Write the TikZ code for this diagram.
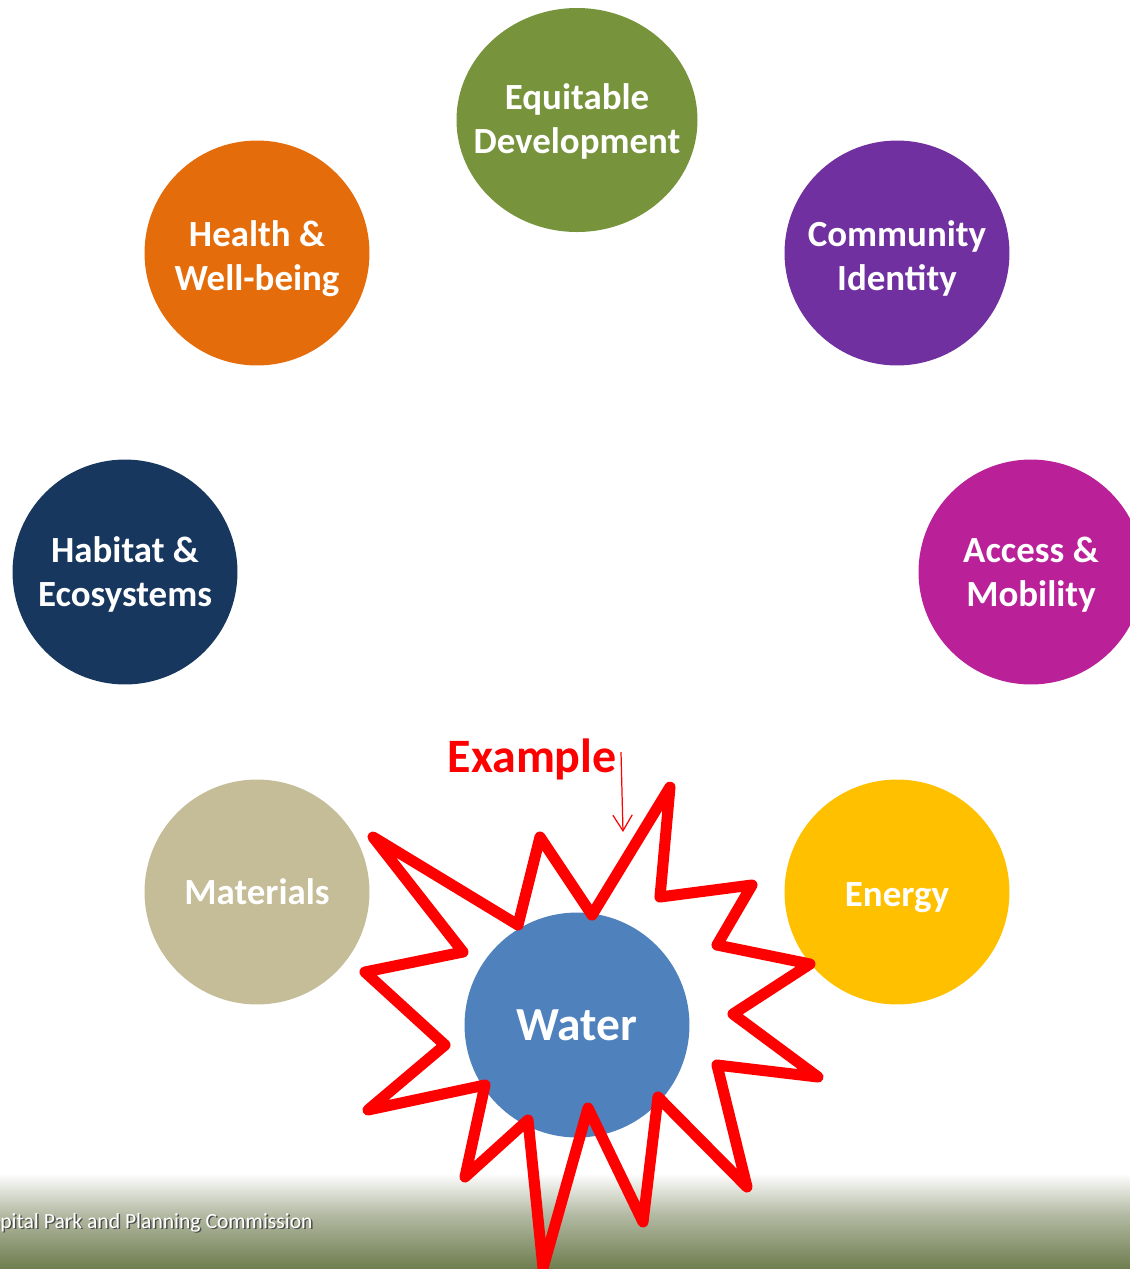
\documentclass[tikz,border=0pt]{standalone}
\usepackage{fontspec}
\setmainfont{Carlito}
\usetikzlibrary{arrows.meta}
\definecolor{equigreen}{HTML}{77933C}
\definecolor{healthorange}{HTML}{E46C0A}
\definecolor{commpurple}{HTML}{7030A0}
\definecolor{habitatblue}{HTML}{17375E}
\definecolor{accessmagenta}{HTML}{BA2198}
\definecolor{materialtan}{HTML}{C4BD97}
\definecolor{energyyellow}{HTML}{FFC000}
\definecolor{waterblue}{HTML}{4F81BD}
\definecolor{footolive}{HTML}{6E7D4E}
\definecolor{footmid}{HTML}{B2B9A2}
\newcommand\lowr[1]{\raisebox{-3.2pt}[\height][\depth]{#1}}
\tikzset{theme/.style={circle,minimum size=4.5cm,inner sep=0pt,text=white,align=center,
                       font=\bfseries\fontsize{21}{25.3}\selectfont},
         burst/.style={draw=red,line width=6.3pt,line join=round},
        }

\begin{document}
\begin{tikzpicture}[x=0.02cm,y=-0.02cm]
        \useasboundingbox(0,0)rectangle(1130,1269);
        % footer band
        \shade[top color=white,bottom color=footmid](0,1173)rectangle(1130,1215);
        \shade[top color=footmid,bottom color=footolive](0,1215)rectangle(1130,1269);
        \node[anchor=base east,inner sep=0pt,text=black!70,font=\fontsize{12.3}{14}\selectfont](shadow)at(314.5,1229.5){Capital Park and Planning Commission};
        \node[anchor=base east,inner sep=0pt,text=white,font=\fontsize{12.3}{14}\selectfont](footer)at(313,1228){Capital Park and Planning Commission};

        \fill[equigreen](577,120)ellipse[x radius=120.5,y radius=112];
        \node[theme,minimum size=0pt](equi)at(577,116){\lowr{Equitable}\\\lowr{Development}};
        \node[theme,fill=healthorange](health)at(257,253){\lowr{Health \&}\\\lowr{Well-being}};
        \node[theme,fill=commpurple](comm)at(897,253){\lowr{Community}\\\lowr{Identity}};
        \node[theme,fill=habitatblue](habitat)at(125,572){\raisebox{-1.5pt}[\height][\depth]{Habitat \&}\\\raisebox{-1.5pt}[\height][\depth]{Ecosystems}};
        \node[theme,fill=accessmagenta](access)at(1031,572){\raisebox{-1.5pt}[\height][\depth]{Access \&}\\\raisebox{-1.5pt}[\height][\depth]{Mobility}};
        \node[theme,fill=materialtan](mat)at(257,892){Materials};
        \node[theme,fill=energyyellow](energy)at(897,892){\lowr{Energy}};
        \node[theme,fill=waterblue,font=\bfseries\fontsize{27}{30}\selectfont](water)at(577,1025){Water};

        % the burst round Water
        \draw[burst](670,787)--(660,897)--(752,885)--(717,945)--(810,964)--(733,1014)--(818,1077)
                 --(717,1065)--(747,1187)--(658,1097)--(643,1222)--(588,1108)--(543,1268)
                 --(528,1120)--(465,1177)--(485,1085)--(368,1110)--(445,1045)--(365,972)
                 --(463,952)--(373,837)--(518,925)--(540,837)--(592,915)--cycle;

        \node[anchor=base east,inner sep=0pt,text=red,font=\bfseries\fontsize{27.3}{30}\selectfont](example)at(617,772){Example};
        \coordinate(tail)at(621,752);
        \coordinate(tip)at(623,832);
        \draw[red,line width=0.7pt,-{Straight Barb[length=9pt,width=11pt]}](tail)--(tip);
    \end{tikzpicture}
\end{document}
